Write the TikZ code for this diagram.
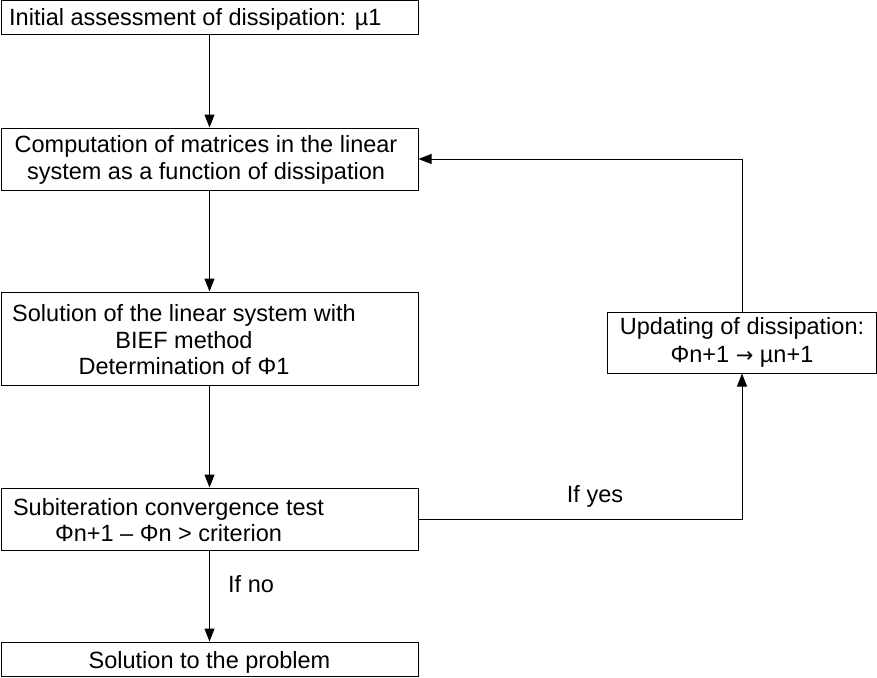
\documentclass[tikz,border=0pt]{standalone}
\usepackage{fontspec}
\setmainfont{Liberation Sans}
\newfontfamily\djv{DejaVu Sans}
\usetikzlibrary{arrows.meta}
\begin{document}
\begin{tikzpicture}[x=1pt,y=-1pt,
  box/.style={draw, line width=1pt, inner sep=0pt},
  txt/.style={inner sep=0pt, align=center, font=\fontsize{23.5}{26.5}\selectfont},
  conn/.style={line width=1pt, -{Triangle[length=13pt,width=10pt]}}]
\useasboundingbox (0,0) rectangle (877,677);
% boxes
\node[box, minimum width=417pt, minimum height=34pt] (b1) at (209.5,18) {};
\node[box, minimum width=417pt, minimum height=62pt] (b2) at (209.5,159) {};
\node[box, minimum width=417pt, minimum height=93pt] (b3) at (209.5,338.5) {};
\node[box, minimum width=417pt, minimum height=62pt] (b4) at (209.5,519) {};
\node[box, txt, minimum width=417pt, minimum height=34pt, text depth=0pt] (b5) at (209.5,659) {\raisebox{-1pt}{Solution to the problem}};
\node[box, txt, font=\fontsize{23.5}{27.5}\selectfont, minimum width=269pt, minimum height=61pt] (b6) at (742,342.5) {Updating of dissipation:\\Φn+1 {\djv\fontsize{21}{21}\selectfont →} µn+1};
% texts
\node[txt, anchor=west] (t1) at (9,19) {Initial assessment of dissipation: µ1};
\node[txt] (t2) at (206,160) {Computation of matrices in the linear\\system as a function of dissipation};
\node[txt] (t3) at (184,340) {Solution of the linear system with\\BIEF method\\Determination of Φ1};
\node[txt] (t4) at (168.5,520) {Subiteration convergence test\\Φn+1 – Φn > criterion};
\node[txt, anchor=base] (ly) at (595,502) {If yes};
\node[txt, anchor=base west] (ln) at (228,592) {If no};
% connectors
\draw[conn] (b1.south) -- (b2.north);
\draw[conn] (b2.south) -- (b3.north);
\draw[conn] (b3.south) -- (b4.north);
\draw[conn] (b4.south) -- (b5.north);
\draw[conn] (b4.east) -| (b6.south);
\draw[conn] (b6.north) |- (b2.east);
\end{tikzpicture}
\end{document}
